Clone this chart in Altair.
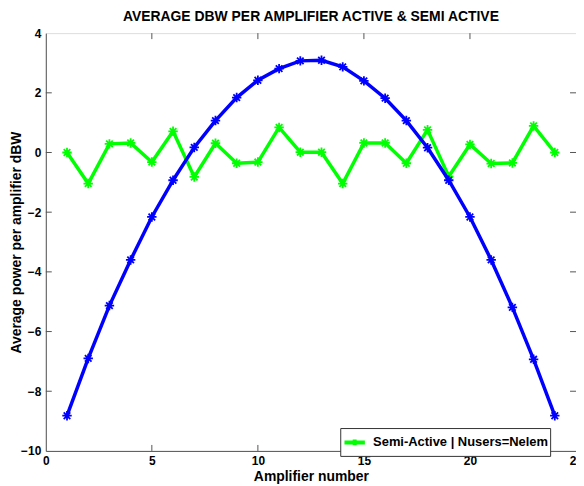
import altair as alt
import pandas as pd

amp = list(range(1, 25))
active = [-8.82, -6.90, -5.13, -3.60, -2.16, -0.93, 0.17, 1.07, 1.84, 2.42, 2.81, 3.07,
          3.09, 2.87, 2.40, 1.82, 1.07, 0.16, -0.93, -2.16, -3.60, -5.19, -6.93, -8.82]
semi = [0.00, -1.04, 0.29, 0.32, -0.32, 0.71, -0.82, 0.31, -0.36, -0.32, 0.84, 0.01,
        0.01, -1.04, 0.32, 0.32, -0.36, 0.76, -0.80, 0.27, -0.37, -0.35, 0.89, 0.00]
semi_label = "Semi-Active | Nusers=Nelem"
active_label = "Active"
x_ticks = [0, 5, 10, 15, 20, 25]
y_ticks = [-10, -8, -6, -4, -2, 0, 2, 4]

W, H = 533, 420
FONT = "Liberation Sans"
AX = "#555555"

df = pd.DataFrame({
    "amp": amp * 2,
    "val": semi + active,
    "series": [semi_label] * 24 + [active_label] * 24,
    "order": [0] * 24 + [1] * 24,
})

xs = alt.Scale(domain=[0, 25], nice=False)
ys = alt.Scale(domain=[-10, 4], nice=False)
color = alt.Color(
    "series:N",
    scale=alt.Scale(domain=[semi_label, active_label], range=["#00FF00", "#0000FF"]),
    legend=alt.Legend(
        values=[semi_label], title=None, orient="none", legendX=296, legendY=397,
        symbolType="M-1,0L1,0M0,-0.28L0,0.28", symbolStrokeWidth=4, symbolSize=420,
        labelFont=FONT, labelFontWeight="bold", labelFontSize=13, labelColor="black",
        strokeColor="#333333", fillColor="white", padding=2, labelLimit=400,
        labelOffset=6,
    ),
)

xaxis = alt.Axis(values=x_ticks, tickSize=0, labelFont=FONT, labelFontWeight="bold",
                 labelFontSize=12, labelColor="black", titleFont=FONT, titleFontWeight="bold",
                 titleFontSize=14, titleColor="black", domainColor=AX, grid=False,
                 labelPadding=5, titlePadding=3, format="d", labelFlush=False)
yaxis = alt.Axis(values=y_ticks, tickSize=0, labelFont=FONT, labelFontWeight="bold",
                 labelFontSize=12, labelColor="black", titleFont=FONT, titleFontWeight="bold",
                 titleFontSize=14, titleColor="black", domainColor=AX, grid=False,
                 labelPadding=5, titlePadding=-3, format="d", labelFlush=False)

base = alt.Chart(df).encode(
    x=alt.X("amp:Q", scale=xs, axis=xaxis, title="Amplifier number"),
    y=alt.Y("val:Q", scale=ys, axis=yaxis, title="Average power per amplifier dBW"),
    color=color,
    detail="series:N",
    order="order:Q",
)

lines_semi = base.transform_filter(alt.datum.series == semi_label).mark_line(strokeWidth=3.5)
lines_act = base.transform_filter(alt.datum.series == active_label).mark_line(strokeWidth=3.5)
star = "M-1,0L1,0M0,-1L0,1M-0.7,-0.7L0.7,0.7M-0.7,0.7L0.7,-0.7"
pts_semi = base.transform_filter(alt.datum.series == semi_label).mark_point(
    shape=star, size=90, strokeWidth=1.8, filled=False, opacity=1)
pts_act = base.transform_filter(alt.datum.series == active_label).mark_point(
    shape=star, size=90, strokeWidth=1.8, filled=False, opacity=1)

xt = pd.DataFrame({"t": x_ticks[1:-1]})
yt = pd.DataFrame({"t": y_ticks[1:-1]})
tick_len = 6
xb = alt.Chart(xt).mark_rule(color=AX, strokeWidth=1).encode(
    x=alt.X("t:Q", scale=xs), y=alt.value(H), y2=alt.value(H - tick_len))
xtop = alt.Chart(xt).mark_rule(color=AX, strokeWidth=1).encode(
    x=alt.X("t:Q", scale=xs), y=alt.value(0), y2=alt.value(tick_len))
yl = alt.Chart(yt).mark_rule(color=AX, strokeWidth=1).encode(
    y=alt.Y("t:Q", scale=ys), x=alt.value(0), x2=alt.value(tick_len))
yr = alt.Chart(yt).mark_rule(color=AX, strokeWidth=1).encode(
    y=alt.Y("t:Q", scale=ys), x=alt.value(W), x2=alt.value(W - tick_len))

chart = alt.layer(xb, xtop, yl, yr, lines_semi, pts_semi, lines_act, pts_act).properties(
    width=W, height=H,
    title=alt.TitleParams("AVERAGE DBW PER AMPLIFIER ACTIVE & SEMI ACTIVE", font=FONT,
                          fontSize=14, fontWeight="bold", color="black", offset=3),
    autosize=alt.AutoSizeParams(type="none"),
    padding={"left": 38, "top": 24, "right": 0, "bottom": 34},
).configure_view(stroke=AX, strokeWidth=1).configure(background="white")

chart.save("out.html", embed_options={"renderer": "svg", "actions": False})
